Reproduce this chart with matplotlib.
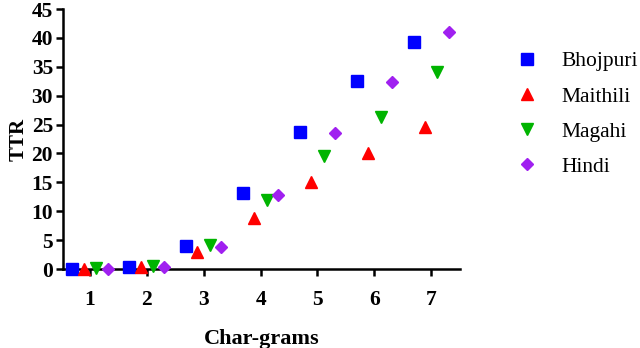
import numpy as np
import matplotlib
matplotlib.use("Agg")
import matplotlib.pyplot as plt

plt.rcParams['font.family'] = ['Liberation Serif', 'DejaVu Serif']

grams = [1, 2, 3, 4, 5, 6, 7]
bhojpuri = [0.0, 0.3, 4.0, 13.1, 23.8, 32.5, 39.3]
maithili = [0.0, 0.3, 2.9, 8.8, 15.0, 20.0, 24.5]
magahi = [0.2, 0.5, 4.2, 12.0, 19.5, 26.3, 34.1]
hindi = [0.0, 0.3, 3.8, 12.8, 23.5, 32.4, 41.0]

series = [
    ("Bhojpuri", bhojpuri, "s", "#0000FF", -0.31, 8.5),
    ("Maithili", maithili, "^", "#FF0000", -0.11, 9),
    ("Magahi", magahi, "v", "#00B400", 0.11, 9),
    ("Hindi", hindi, "D", "#A020F0", 0.31, 6.5),
]

fig = plt.figure(figsize=(6.4, 3.48), dpi=100)
ax = fig.add_axes([0.098, 0.227, 0.621, 0.747])

x = np.array(grams)
for name, vals, mk, col, off, ms in series:
    ax.plot(x + off, vals, linestyle="none", marker=mk, color=col,
            markersize=ms, label=name, clip_on=False, zorder=3)

ax.set_xlim(0.52, 7.51)
ax.set_ylim(0, 45)
ax.set_xticks(grams)
ax.set_yticks(range(0, 46, 5))
ax.spines['top'].set_visible(False)
ax.spines['right'].set_visible(False)
for s in ['left', 'bottom']:
    ax.spines[s].set_linewidth(1.8)
ax.tick_params(width=1.8, length=5, labelsize=15.5, pad=2)
for lab in ax.get_xticklabels() + ax.get_yticklabels():
    lab.set_fontweight("bold")
ax.tick_params(axis='x', pad=10)

ax.set_xlabel("Char-grams", fontsize=16, fontweight="bold", labelpad=14)
ax.set_ylabel("TTR", fontsize=15, fontweight="bold", labelpad=2)

ax.legend(loc="upper left", bbox_to_anchor=(1.065, 0.912), frameon=False,
          fontsize=15.5, handletextpad=0.6, labelspacing=0.7, numpoints=1)

fig.savefig("out.png", dpi=100)
